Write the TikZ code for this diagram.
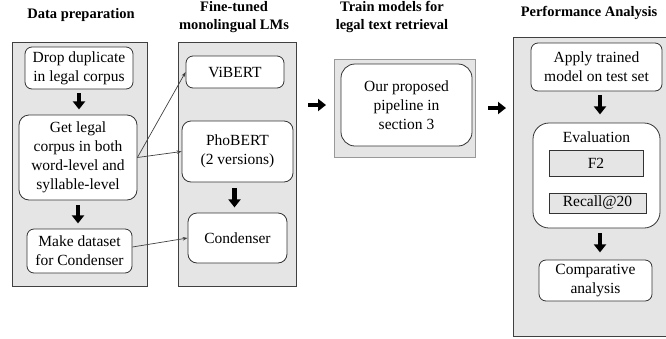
\documentclass[tikz,border=0pt]{standalone}
\usepackage{fontspec}
\setmainfont{Liberation Serif}
\newfontfamily\tnr{Liberation Serif}
\usetikzlibrary{arrows.meta}
\begin{document}
\begin{tikzpicture}[x=1pt,y=-1pt,
  panel/.style={draw=black!75, fill=black!10, line width=0.8pt},
  rbox/.style={draw=black!80, fill=white, rounded corners=7pt, line width=0.8pt,
    align=center, inner sep=0pt, font=\tnr\fontsize{15.5}{19}\selectfont},
  gbox/.style={draw=black!80, fill=black!10, line width=0.7pt, align=center,
    inner sep=0pt, font=\tnr\fontsize{15.5}{19}\selectfont},
  ttl/.style={font=\tnr\bfseries\fontsize{14.5}{18}\selectfont, align=center},
  bigarrow/.style={line width=4.5pt, -{Triangle[width=12pt,length=8pt]}},
  conn/.style={draw=black!75, line width=0.7pt, -{Stealth[length=5pt,width=3.5pt]}}]
\useasboundingbox (0,0) rectangle (666,338);
\begin{scope}
\clip (0,0) rectangle (666,338);
% titles
\node[ttl] (t1) at (81,15) {Data preparation};
\node[ttl] (t2) at (234,17) {Fine-tuned\\monolingual LMs};
\node[ttl] (t3) at (392,16.5) {Train models for\\legal text retrieval};
\node[ttl] (t4) at (589,13) {Performance Analysis};
% panels
\node[panel, minimum width=135pt, minimum height=244pt] (p1) at (79.5,164) {};
\node[panel, minimum width=118pt, minimum height=244pt] (p2) at (237,164) {};
\node[panel, draw=black!40, minimum width=141pt, minimum height=98pt] (p3) at (404.5,108) {};
\node[panel, minimum width=157pt, minimum height=299pt] (p4) at (591.5,186.5) {};
% left boxes
\node[rbox, minimum width=108pt, minimum height=42pt] (drop) at (79,68) {Drop duplicate\\in legal corpus};
\node[rbox, rounded corners=10pt, minimum width=118pt, minimum height=85pt] (get) at (78,157.5) {Get legal\\corpus in both\\word-level and\\syllable-level};
\node[rbox, minimum width=105pt, minimum height=44pt] (make) at (79.5,251) {Make dataset\\for Condenser};
\draw[bigarrow] (drop.south) ++(0,4) coordinate (a1s) -- ++(0,16) coordinate (a1e);
\draw[bigarrow] (get.south) ++(0,5) coordinate (a2s) -- ++(0,18) coordinate (a2e);
% middle boxes
\node[rbox, minimum width=98pt, minimum height=32pt] (vibert) at (235,72) {ViBERT};
\node[rbox, rounded corners=9pt, minimum width=111pt, minimum height=61pt] (pho) at (237.5,151.5) {PhoBERT\\(2 versions)};
\node[rbox, rounded corners=9pt, minimum width=99pt, minimum height=50pt] (cond) at (237.5,238) {Condenser};
\draw[bigarrow] (pho.south) ++(-3,6) coordinate (a3s) -- ++(0,19) coordinate (a3e);
% connectors
\draw[conn] (get.east) -- (vibert.west);
\draw[conn] (get.east) -- (pho.west);
\draw[conn] ([yshift=4pt]make.east) -- (cond.west);
% third
\node[rbox, rounded corners=14pt, minimum width=131pt, minimum height=82pt] (pipe) at (406.5,105) {Our proposed\\pipeline in\\section 3};
\coordinate (h1s) at (308,105);
\coordinate (h1e) at (326,105);
\draw[bigarrow] (h1s) -- (h1e);
\coordinate (h2s) at (488,108);
\coordinate (h2e) at (506,108);
\draw[bigarrow] (h2s) -- (h2e);
% right
\node[rbox, minimum width=131pt, minimum height=48pt] (apply) at (596.5,67) {Apply trained\\model on test set};
\node[rbox, rounded corners=16pt, minimum width=127pt, minimum height=105pt] (eval) at (596.5,175.5) {};
\node[font=\tnr\fontsize{15.5}{19}\selectfont] (evt) at (596.5,137) {Evaluation};
\node[gbox, minimum width=94pt, minimum height=26pt] (f2) at (596,163) {F2};
\node[gbox, minimum width=97pt, minimum height=20pt] (rec) at (597.5,203) {Recall@20};
\node[rbox, minimum width=113pt, minimum height=41pt] (comp) at (595.5,280.5) {Comparative\\analysis};
\draw[bigarrow] (apply.south) ++(3.5,4) coordinate (a4s) -- ++(0,19) coordinate (a4e);
\draw[bigarrow] (eval.south) ++(3.5,5) coordinate (a5s) -- ++(0,19) coordinate (a5e);
\end{scope}
\end{tikzpicture}
\end{document}
